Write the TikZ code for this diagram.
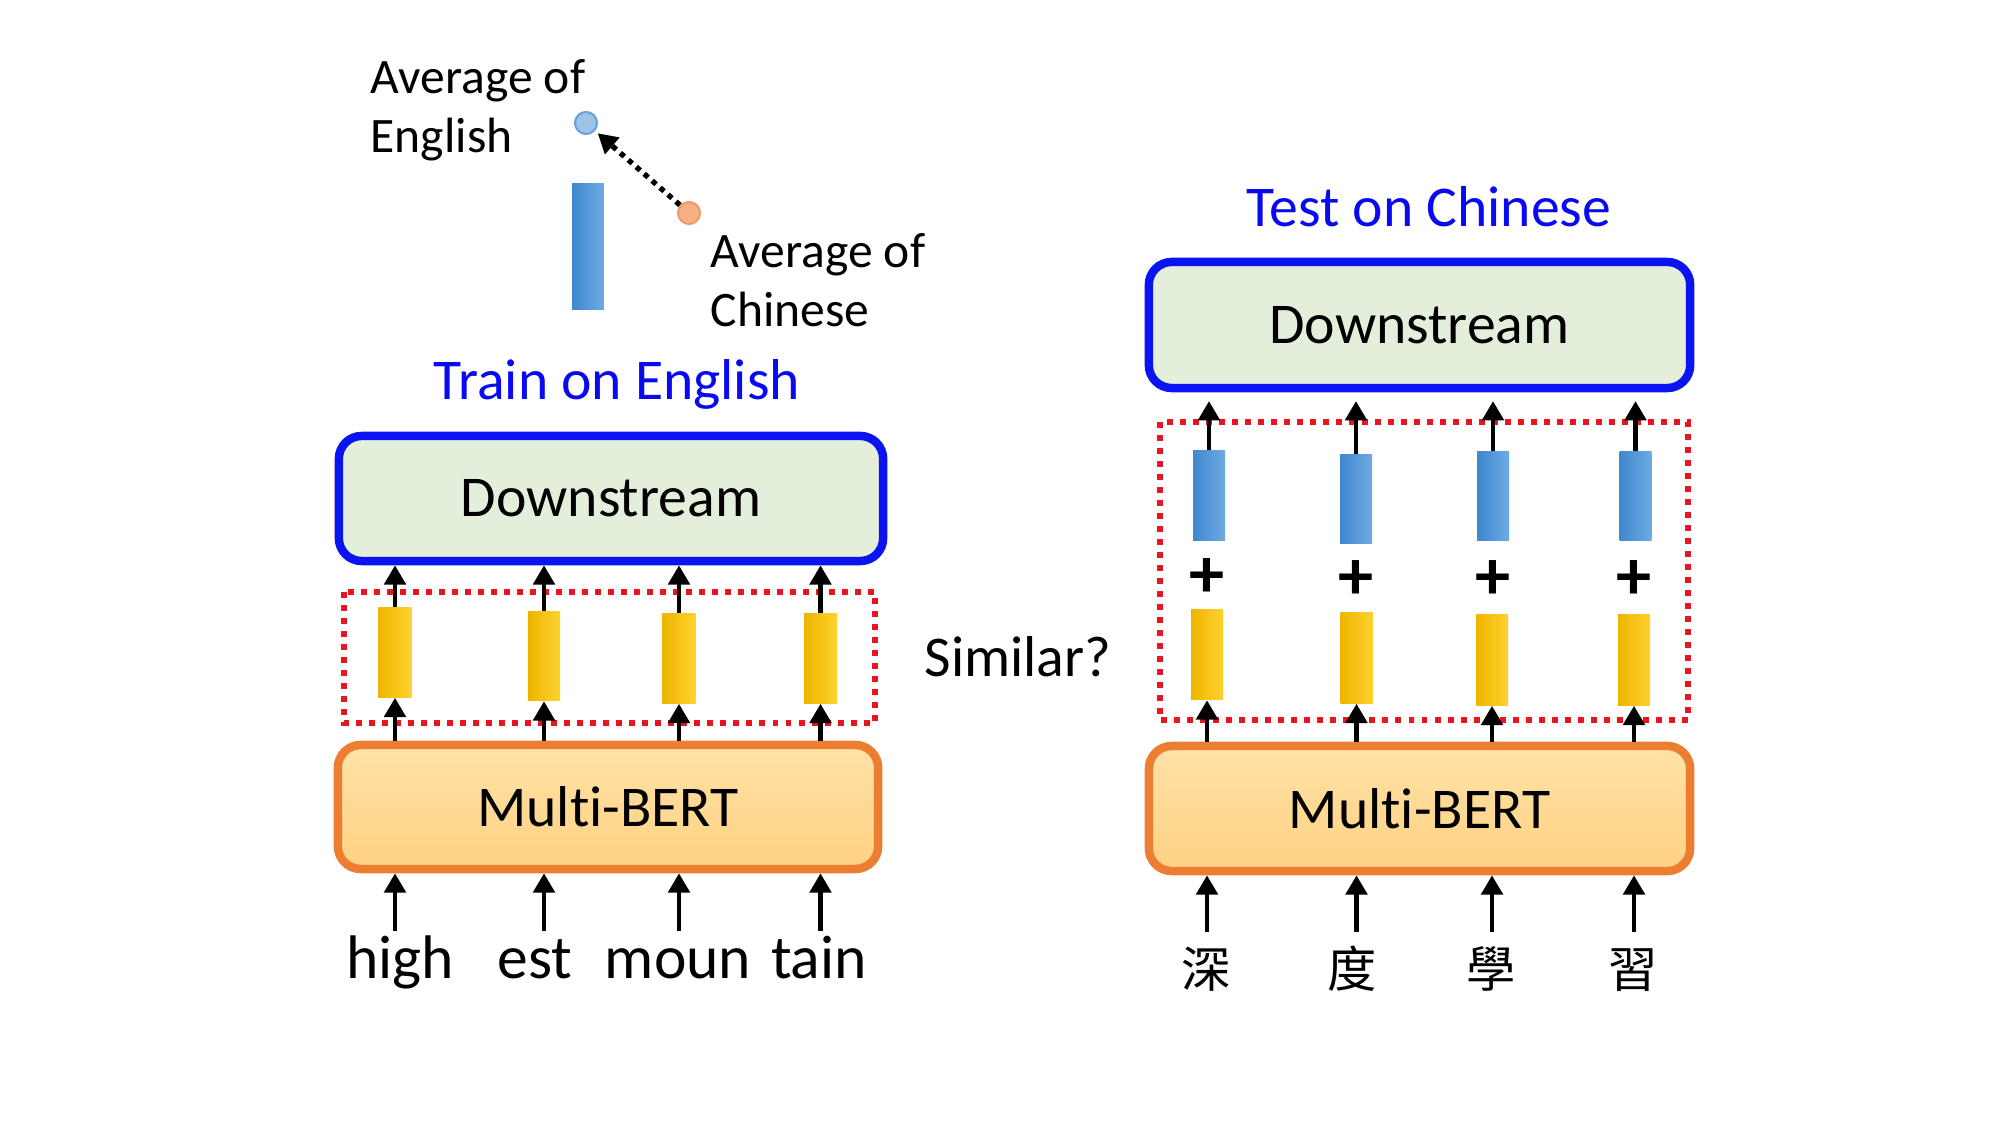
\documentclass[tikz,border=0pt]{standalone}
\usepackage{fontspec}
\setmainfont{Carlito}[Ligatures=NoCommon]
\newfontfamily\cjk{Noto Sans CJK TC}
\usetikzlibrary{arrows.meta}
\definecolor{dsblue}{HTML}{0A14F0}
\definecolor{dsfill}{HTML}{E3EEDB}
\definecolor{mborange}{HTML}{ED7D31}
\definecolor{mbtop}{HTML}{FFE2A6}
\definecolor{mbbot}{HTML}{FFD183}
\definecolor{redline}{HTML}{E8141E}
\definecolor{ydark}{HTML}{EDB500}
\definecolor{ylight}{HTML}{FFD230}
\definecolor{bdark}{HTML}{3F87CF}
\definecolor{blight}{HTML}{6FAAE2}
\definecolor{titleblue}{HTML}{0A0AF0}
\definecolor{circblue}{HTML}{9DC3E6}
\definecolor{circblueb}{HTML}{6F9FD8}
\definecolor{circorange}{HTML}{F4B183}
\definecolor{circorangeb}{HTML}{EE9A6A}
\begin{document}
\begin{tikzpicture}[x=0.01cm,y=-0.01cm,
  font=\fontsize{16.4}{19.7}\selectfont,
  dsbox/.style={draw=dsblue, line width=2.4pt, fill=dsfill, rounded corners=6.5pt, inner sep=0},
  mbbox/.style={draw=mborange, line width=2.4pt, top color=mbtop, bottom color=mbbot, rounded corners=6.5pt, inner sep=0},
  reddot/.style={draw=redline, line width=1.7pt, dash pattern=on 1.7pt off 2pt},
  ybar/.style={minimum width=0.33cm, minimum height=0.89cm, inner sep=0, left color=ydark, right color=ylight},
  bbar/.style={minimum width=0.32cm, minimum height=0.89cm, inner sep=0, left color=bdark, right color=blight},
  arr/.style={line width=1.4pt, -{Triangle[width=6pt,length=5.5pt]}},
  word/.style={anchor=base, inner sep=0, font=\fontsize{17.5}{21}\selectfont, text height=13.1pt, text depth=0pt},
  cjkword/.style={anchor=base, inner sep=0, font=\cjk\fontsize{14}{16}\selectfont, text height=15.4pt, text depth=0pt},
  title/.style={anchor=base, inner sep=0, text=titleblue},
  small/.style={anchor=base west, inner sep=0, align=left, font=\fontsize{14.1}{16.8}\selectfont},
  plus/.style={inner sep=0, font=\bfseries\fontsize{20}{24}\selectfont}
]
\useasboundingbox[fill=white] (0,0) rectangle (2000,1125);

% ---------- top legend ----------
\node[small] (lblE) at (370,153) {Average of\\English};
\node[small] (lblC) at (710,327) {Average of\\Chinese};
\node[circle, fill=circblue, draw=circblueb, line width=0.6pt, minimum size=0.22cm, inner sep=0] (avgE) at (586,123) {};
\node[circle, fill=circorange, draw=circorangeb, line width=0.6pt, minimum size=0.22cm, inner sep=0] (avgC) at (689,213) {};
\draw[line width=1.5pt, dash pattern=on 1.5pt off 1.5pt, -{Triangle[width=6pt,length=5.5pt]}, shorten >=1pt] (avgC) -- (avgE);
\node[minimum width=0.315cm, minimum height=1.25cm, inner sep=0, left color=bdark, right color=blight] (avgbar) at (588,246.5) {};

% ---------- left (train on English) ----------
\node[title] (trainT) at (617,400) {Train on English};
\node[dsbox, minimum width=5.44cm, minimum height=1.25cm] (dsL) at (611,498.5) {Downstream};
\draw[reddot] (344,592) rectangle (875,723);
\node[ybar] (yL1) at (395,652.5) {};
\node[ybar, minimum width=0.32cm] (yL2) at (544,656) {};
\node[ybar] (yL3) at (679,658.5) {};
\node[ybar] (yL4) at (820.5,658.5) {};
\node[mbbox, minimum width=5.40cm, minimum height=1.24cm] (mbL) at (608,807) {Multi-BERT};
\foreach \i in {1,2,3,4}{
  \draw[arr] (yL\i.north) -- (yL\i.north |- dsL.south);
  \draw[arr] (yL\i.south |- mbL.north) -- (yL\i.south);
}
\node[word] (wL1) at (400,978) {high};
\node[word] (wL2) at (535,978) {est};
\node[word] (wL3) at (678,978) {moun};
\node[word] (wL4) at (819,978) {tain};
\foreach \i in {1,2,3,4}{
  \draw[arr] (yL\i.south |- wL\i.north) -- (yL\i.south |- mbL.south);
}

% ---------- middle ----------
\node[anchor=base, inner sep=0] (sim) at (1018,677) {Similar?};

% ---------- right (test on Chinese) ----------
\node[title] (testT) at (1429,227) {Test on Chinese};
\node[dsbox, minimum width=5.41cm, minimum height=1.26cm] (dsR) at (1419.5,325) {Downstream};
\draw[reddot] (1160,422) rectangle (1688,720);
\node[bbar] (bR1) at (1209,495.5) {};
\node[bbar] (bR2) at (1356,499) {};
\node[bbar] (bR3) at (1493,496) {};
\node[bbar] (bR4) at (1635.5,496) {};
\node[plus] (pR1) at (1207,578) {+};
\node[plus] (pR2) at (1356,580) {+};
\node[plus] (pR3) at (1492.5,580) {+};
\node[plus] (pR4) at (1634,580) {+};
\node[ybar, minimum width=0.32cm, minimum height=0.9cm] (yR1) at (1207,654.5) {};
\node[ybar, minimum width=0.32cm, minimum height=0.9cm] (yR2) at (1356.5,658) {};
\node[ybar, minimum width=0.32cm, minimum height=0.9cm] (yR3) at (1492,660) {};
\node[ybar, minimum width=0.32cm, minimum height=0.9cm] (yR4) at (1634,660) {};
\node[mbbox, minimum width=5.41cm, minimum height=1.25cm] (mbR) at (1419.5,808.5) {Multi-BERT};
\foreach \i in {1,2,3,4}{
  \draw[arr, shorten >=2.5pt] (bR\i.north) -- (bR\i.north |- dsR.south);
  \draw[arr] (yR\i.south |- mbR.north) -- (yR\i.south);
}
\node[cjkword] (cR1) at (1206,987) {深};
\node[cjkword] (cR2) at (1352,987) {度};
\node[cjkword] (cR3) at (1491,987) {學};
\node[cjkword] (cR4) at (1633,987) {習};
\foreach \i in {1,2,3,4}{
  \draw[arr] (yR\i.south |- cR\i.north) -- (yR\i.south |- mbR.south);
}
\end{tikzpicture}
\end{document}
